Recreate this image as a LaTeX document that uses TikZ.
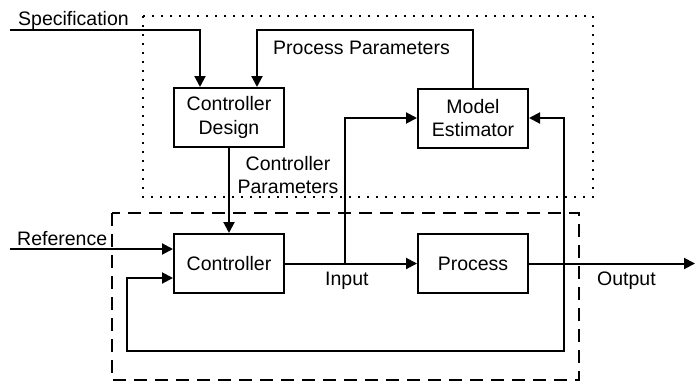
\documentclass[tikz,border=0pt]{standalone}
\usepackage{fontspec}
\setmainfont{Liberation Sans}
\usetikzlibrary{arrows.meta}
\begin{document}
\begin{tikzpicture}[x=1pt,y=-1pt,
  every node/.style={font=\fontsize{19.5}{23.5}\selectfont},
  block/.style={draw,line width=2pt,minimum width=110pt,minimum height=59pt,inner sep=0pt,align=center},
  wire/.style={line width=2pt},
  arr/.style={wire,-{Triangle[length=11pt,width=11pt]}},
  lbl/.style={inner sep=0pt,anchor=base west},
  adaptbox/.style={line width=1.8pt,dash pattern=on 1.8pt off 7.2pt},
  loopbox/.style={line width=2pt,dash pattern=on 13pt off 8pt}]
\useasboundingbox (0,0) rectangle (695,381);

% enclosing regions: adaptation layer (dotted) and control loop (dashed)
\draw[adaptbox] (143,16) rectangle (593,197);
\draw[loopbox] (112,213) rectangle (579,380);

% blocks
\node[block] (cd)   at (229,117.5) {Controller\\Design};
\node[block] (me)   at (473,118)   {Model\\Estimator};
\node[block] (ctrl) at (229,263.5) {Controller};
\node[block] (proc) at (473,263.5) {Process};

% free ends and junction points
\coordinate (specin) at (10,30);
\coordinate (pp)     at (473,30);
\coordinate (refin)  at (10,249);
\coordinate (inj)    at (345,263.5);
\coordinate (outj)   at (564,263.5);
\coordinate (out)    at (695,263.5);
\coordinate (fb1)    at (564,351);
\coordinate (fb2)    at (127,351);

% connectors
\draw[arr] (specin) -| ([xshift=-29pt]cd.north);
\draw[arr] (me.north) -- (pp) -| ([xshift=28pt]cd.north);
\draw[arr] (cd.south) -- (ctrl.north);
\draw[arr] (refin) -- (refin -| ctrl.west);
\draw[arr] (ctrl.east) -- (proc.west);
\draw[arr] (inj) |- (me.west);
\draw[arr] (proc.east) -- (out);
\draw[arr] (outj) |- (me.east);
\draw[arr] (outj) -- (fb1) -- (fb2) |- ([yshift=-14.5pt]ctrl.west);

% labels
\node[lbl] (lspec) at (18,25)  {Specification};
\node[lbl] (lpp)   at (273,54) {Process Parameters};
\node[inner sep=0pt,align=center,anchor=north] (lcp) at (288,156) {Controller\\Parameters};
\node[lbl] (lref)  at (17,245) {Reference};
\node[lbl] (lin)   at (325,285) {Input};
\node[lbl] (lout)  at (597,285.5) {Output};
\end{tikzpicture}
\end{document}
